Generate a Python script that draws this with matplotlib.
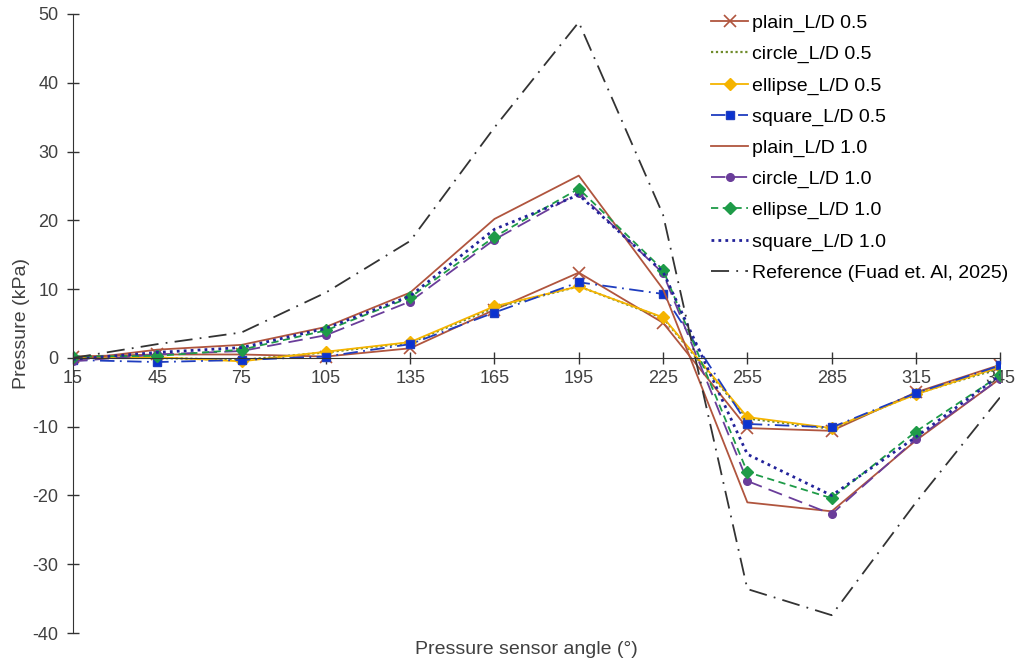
import numpy as np
import matplotlib
matplotlib.use("Agg")
from matplotlib import pyplot as plt

plt.rcParams['font.family'] = ['Liberation Sans', 'DejaVu Sans']
plt.rcParams['axes.unicode_minus'] = False

angles = [15, 45, 75, 105, 135, 165, 195, 225, 255, 285, 315, 345]

plain_05 = [0.2, 0.5, 0.5, 0.2, 1.4, 7.0, 12.4, 5.1, -10.2, -10.6, -5.0, -1.0]
circle_05 = [0.0, 0.0, -0.3, 0.8, 2.2, 7.3, 10.4, 5.8, -8.8, -10.3, -5.2, -1.5]
ellipse_05 = [0.0, 0.1, -0.5, 0.9, 2.3, 7.5, 10.4, 5.9, -8.6, -10.2, -5.3, -1.3]
square_05 = [-0.3, -0.6, -0.3, 0.2, 2.0, 6.6, 11.0, 9.3, -9.6, -10.1, -5.1, -1.1]
plain_10 = [-0.3, 1.2, 1.9, 4.5, 9.5, 20.2, 26.5, 10.0, -21.0, -22.3, -12.0, -3.0]
circle_10 = [-0.5, 0.5, 1.0, 3.3, 8.2, 17.2, 24.0, 12.3, -17.9, -22.7, -11.8, -3.0]
ellipse_10 = [0.2, 0.3, 1.2, 4.0, 8.8, 17.6, 24.6, 12.8, -16.6, -20.4, -10.7, -2.5]
square_10 = [-0.2, 0.8, 1.5, 4.3, 9.0, 18.7, 23.7, 12.5, -14.0, -20.0, -11.5, -2.5]
reference = [0.0, 2.0, 3.7, 9.5, 17.0, 33.5, 48.8, 20.8, -33.6, -37.4, -21.0, -5.7]

fig = plt.figure(figsize=(10.19, 6.65), dpi=100)
ax = fig.add_axes([0.0716, 0.048, 0.91, 0.931])

ax.plot(angles, plain_05, color='#B0553E', lw=1.3, marker='x', ms=9, mew=1.2, label='plain_L/D 0.5')
ax.plot(angles, circle_05, color='#6E8B2A', lw=1.6, ls=(0, (1, 1.2)), label='circle_L/D 0.5')
ax.plot(angles, ellipse_05, color='#F5B400', lw=1.3, marker='D', ms=6, label='ellipse_L/D 0.5')
ax.plot(angles, square_05, color='#1F3DBF', lw=1.3, ls=(0, (8, 3, 1, 3)), marker='s', ms=6, mfc='#0A32D0', label='square_L/D 0.5')
ax.plot(angles, plain_10, color='#B0553E', lw=1.3, label='plain_L/D 1.0')
ax.plot(angles, circle_10, color='#6A3D9A', lw=1.3, ls=(0, (8, 4)), marker='o', ms=5.5, label='circle_L/D 1.0')
ax.plot(angles, ellipse_10, color='#1E9B48', lw=1.3, ls=(0, (4, 2.5)), marker='D', ms=6, label='ellipse_L/D 1.0')
ax.plot(angles, square_10, color='#23239A', lw=2.0, ls=(0, (1, 1.5)), label='square_L/D 1.0')
ax.plot(angles, reference, color='#333333', lw=1.3, ls=(0, (10, 4, 1, 4)), label='Reference (Fuad et. Al, 2025)')

ax.set_xlim(15, 345)
ax.set_ylim(-40, 50)
ax.set_xticks(angles)
ax.set_yticks(np.arange(-40, 51, 10))
ax.spines['top'].set_visible(False)
ax.spines['right'].set_visible(False)
ax.spines['bottom'].set_position(('data', 0))
ax.spines['left'].set_color('#333333')
ax.spines['bottom'].set_color('#333333')
ax.tick_params(axis='both', direction='inout', length=9, width=1, colors='#333333',
               labelsize=13, labelcolor='#404040')
ax.tick_params(axis='x', pad=4)
ax.tick_params(axis='y', pad=6)

ax.set_ylabel('Pressure (kPa)', fontsize=14, color='#404040', labelpad=2)
fig.text(0.517, 0.024, 'Pressure sensor angle (°)', fontsize=14, color='#404040', ha='center', va='center')

ax.legend(loc='upper left', bbox_to_anchor=(0.68, 1.012), frameon=False, fontsize=14,
          handlelength=1.9, handletextpad=0.2, labelspacing=0.69, borderaxespad=0)

fig.savefig('out.png', dpi=100)
